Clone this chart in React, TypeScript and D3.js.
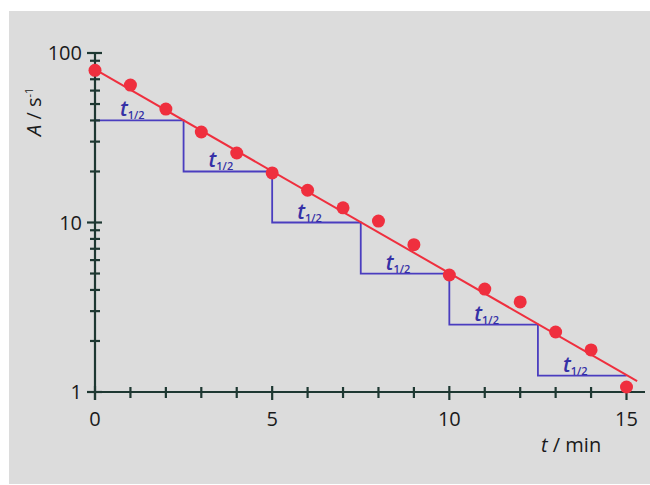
import React, { useRef, useEffect } from "react";
import * as d3 from "d3";

// measured activity (decay counts)
const times = [0, 1, 2, 3, 4, 5, 6, 7, 8, 9, 10, 11, 12, 13, 14, 15];
const activity = [79, 64.7, 46.7, 34.2, 25.7, 19.6, 15.5, 12.2, 10.2, 7.4, 4.9, 4.05, 3.4, 2.26, 1.77, 1.07];

// fitted straight line (log scale)
const fitTimes = [0, 15.3];
const fitActivity = [80, 1.16];

// half-life steps
const halfTimes = [0, 2.5, 5, 7.5, 10, 12.5, 15];
const halfLevels = [40, 20, 10, 5, 2.5, 1.25];

const xTicks = [0, 5, 10, 15];
const xMinorTicks = [1, 2, 3, 4, 6, 7, 8, 9, 11, 12, 13, 14];
const yTicks = [1, 10, 100];
const yMinorTicks = [2, 3, 4, 5, 6, 7, 8, 9, 20, 30, 40, 50, 60, 70, 80, 90];

const App = () => {
  const svgRef = useRef(null);

  useEffect(() => {
    const svg = d3.select(svgRef.current);
    svg.selectAll("*").remove();

    const width = 650,
      height = 485,
      font = "'Open Sans', 'Noto Sans', sans-serif",
      axisColor = "#1e3832",
      red = "#ef2f3e",
      blue = "#4a3dbf";

    const x = d3.scaleLinear().domain([0, 15]).range([95, 626.5]);
    const y = d3.scaleLog().domain([1, 100]).range([392, 53]);

    // panel
    svg.append("rect").attr("width", width).attr("height", height).attr("fill", "#ffffff");
    svg
      .append("rect")
      .attr("x", 9)
      .attr("y", 11)
      .attr("width", width - 9)
      .attr("height", height - 12)
      .attr("fill", "#dcdcdc");

    // half-life steps
    const stepPts = [];
    halfLevels.forEach((lv, i) => {
      stepPts.push([halfTimes[i], lv]);
      stepPts.push([halfTimes[i + 1], lv]);
    });
    const line = d3
      .line()
      .x((d) => x(d[0]))
      .y((d) => y(d[1]));
    svg
      .append("path")
      .attr("d", line(stepPts))
      .attr("fill", "none")
      .attr("stroke", blue)
      .attr("stroke-width", 1.8);

    // t1/2 labels
    halfLevels.forEach((lv, i) => {
      const mid = (x(halfTimes[i]) + x(halfTimes[i + 1])) / 2 - 7;
      const t = svg
        .append("text")
        .attr("x", mid)
        .attr("y", y(lv) - 4)
        .attr("text-anchor", "middle")
        .attr("fill", "#3530a6")
        .style("font-family", font)
        .style("font-weight", 600);
      t.append("tspan").text("t").style("font-style", "italic").style("font-size", "21px");
      t.append("tspan").text("1/2").attr("dy", 3).style("font-size", "11px");
    });

    // x axis
    const xAxis = svg.append("g");
    xAxis
      .append("line")
      .attr("x1", 87)
      .attr("x2", 645)
      .attr("y1", y(1))
      .attr("y2", y(1))
      .attr("stroke", axisColor)
      .attr("stroke-width", 2.2);
    xAxis
      .selectAll(".xminor")
      .data(xMinorTicks)
      .enter()
      .append("line")
      .attr("x1", (d) => x(d))
      .attr("x2", (d) => x(d))
      .attr("y1", y(1) - 5)
      .attr("y2", y(1) + 6)
      .attr("stroke", axisColor)
      .attr("stroke-width", 2.2);
    xAxis
      .selectAll(".xmajor")
      .data(xTicks)
      .enter()
      .append("line")
      .attr("x1", (d) => x(d))
      .attr("x2", (d) => x(d))
      .attr("y1", y(1) - 6)
      .attr("y2", y(1) + 8)
      .attr("stroke", axisColor)
      .attr("stroke-width", 2.2);
    xAxis
      .selectAll(".xlabel")
      .data(xTicks)
      .enter()
      .append("text")
      .attr("x", (d) => x(d))
      .attr("y", 426)
      .attr("text-anchor", "middle")
      .attr("fill", "#1a1a1a")
      .style("font-family", font)
      .style("font-size", "20px")
      .text((d) => d);

    // y axis
    const yAxis = svg.append("g");
    yAxis
      .append("line")
      .attr("x1", x(0))
      .attr("x2", x(0))
      .attr("y1", y(100))
      .attr("y2", y(1) + 8)
      .attr("stroke", axisColor)
      .attr("stroke-width", 2.2);
    yAxis
      .selectAll(".yminor")
      .data(yMinorTicks)
      .enter()
      .append("line")
      .attr("x1", x(0) - 5)
      .attr("x2", x(0) + 5)
      .attr("y1", (d) => y(d))
      .attr("y2", (d) => y(d))
      .attr("stroke", axisColor)
      .attr("stroke-width", 2.2);
    yAxis
      .selectAll(".ymajor")
      .data(yTicks)
      .enter()
      .append("line")
      .attr("x1", x(0) - 8)
      .attr("x2", x(0) + 7)
      .attr("y1", (d) => y(d))
      .attr("y2", (d) => y(d))
      .attr("stroke", axisColor)
      .attr("stroke-width", 2.2);
    yAxis
      .selectAll(".ylabel")
      .data(yTicks)
      .enter()
      .append("text")
      .attr("x", 82)
      .attr("y", (d) => y(d) + 7)
      .attr("text-anchor", "end")
      .attr("fill", "#1a1a1a")
      .style("font-family", font)
      .style("font-size", "20px")
      .text((d) => d);

    // fit line
    svg
      .append("path")
      .attr("d", line(fitTimes.map((t, i) => [t, fitActivity[i]])))
      .attr("fill", "none")
      .attr("stroke", red)
      .attr("stroke-width", 2);

    // data points
    svg
      .selectAll(".dot")
      .data(times)
      .enter()
      .append("circle")
      .attr("cx", (d) => x(d))
      .attr("cy", (d, i) => y(activity[i]))
      .attr("r", 6.5)
      .attr("fill", red);

    // axis titles
    const xt = svg
      .append("text")
      .attr("x", 541)
      .attr("y", 452)
      .attr("fill", "#1a1a1a")
      .style("font-family", font)
      .style("font-size", "20px");
    xt.append("tspan").text("t").style("font-style", "italic");
    xt.append("tspan").text(" / min");

    const yt = svg
      .append("text")
      .attr("transform", "translate(41,136) rotate(-90)")
      .attr("fill", "#1a1a1a")
      .style("font-family", font)
      .style("font-size", "20px");
    yt.append("tspan").text("A").style("font-style", "italic");
    yt.append("tspan").text(" / s");
    yt.append("tspan").text("-1").attr("dy", -8).style("font-size", "11px");
  }, []);

  return (
    <svg
      ref={svgRef}
      width={650}
      height={485}
      style={{ position: "absolute", left: 0, top: 0, display: "block" }}
    ></svg>
  );
};

export default App;
